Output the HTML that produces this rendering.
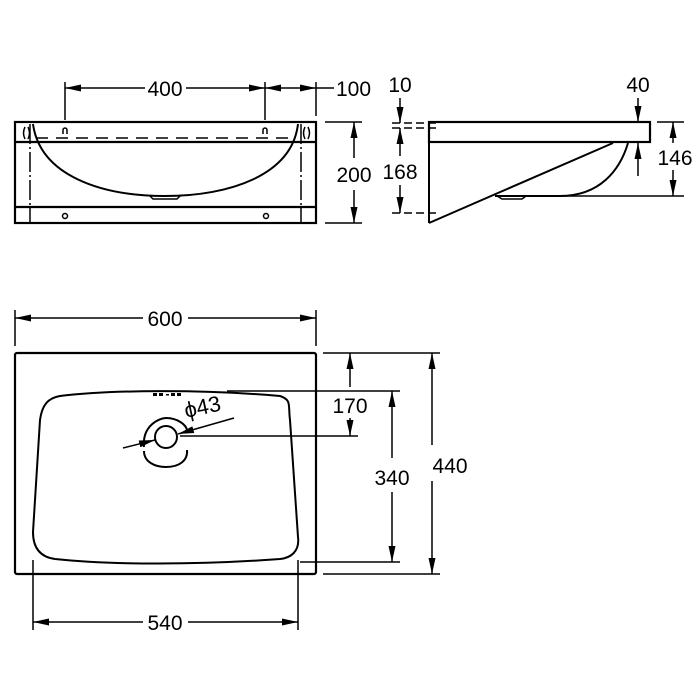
<!DOCTYPE html>
<html><head><meta charset="utf-8"><style>
html,body{margin:0;padding:0;background:#fff;}
svg{display:block;}
text{font-family:"Liberation Sans",sans-serif;font-size:21px;fill:#000;}
</style></head><body>
<svg width="700" height="700" viewBox="0 0 700 700" xmlns="http://www.w3.org/2000/svg">
<defs>
<marker id="a" viewBox="0 0 16 7" refX="16" refY="3.5" markerWidth="16" markerHeight="7" markerUnits="userSpaceOnUse" orient="auto-start-reverse">
<path d="M0,0 L16,3.5 L0,7 z" fill="#000"/>
</marker>
</defs>
<g stroke="#000" fill="none" stroke-width="1.5">
<!-- TOP FRONT VIEW -->
<rect x="15" y="122" width="301" height="101" stroke-width="2.2"/>
<line x1="15" y1="142" x2="316" y2="142" stroke-width="2.2"/>
<line x1="15" y1="207" x2="316" y2="207" stroke-width="2.2"/>
<line x1="36" y1="138" x2="296" y2="138" stroke-dasharray="12,8"/>
<line x1="30" y1="124" x2="30" y2="223" stroke-dasharray="20,3,2,3"/>
<line x1="301" y1="124" x2="301" y2="223" stroke-dasharray="20,3,2,3"/>
<path d="M33,124 C40,175 100,196 165,196 C230,196 292,175 298,124" stroke-width="2"/>
<path d="M150,196 L153,199 L177,199 L180,196"/>
<path d="M25,127 q-3,6 0,12 M28,127 q3,6 0,12 M305,127 q-3,6 0,12 M308,127 q3,6 0,12"/>
<path d="M63,134 v-4 a2,2 0 1 1 4,0 v4 M263,134 v-4 a2,2 0 1 1 4,0 v4"/>
<circle cx="65" cy="216" r="2.5"/><circle cx="266" cy="216" r="2.5"/>
<line x1="65" y1="82" x2="65" y2="120"/>
<line x1="265" y1="82" x2="265" y2="120"/>
<line x1="316" y1="82" x2="316" y2="116"/>
<line x1="65" y1="88" x2="145" y2="88" marker-start="url(#a)"/>
<line x1="186" y1="88" x2="265" y2="88" marker-end="url(#a)"/>
<line x1="265" y1="88" x2="316" y2="88" marker-start="url(#a)" marker-end="url(#a)"/>
<line x1="316" y1="88" x2="334" y2="88"/>
<line x1="325" y1="122" x2="362" y2="122"/>
<line x1="325" y1="223" x2="362" y2="223"/>
<line x1="354" y1="122" x2="354" y2="158" marker-start="url(#a)"/>
<line x1="354" y1="190" x2="354" y2="223" marker-end="url(#a)"/>
<!-- SIDE VIEW -->
<rect x="429" y="122" width="221" height="20" stroke-width="2.2"/>
<line x1="429" y1="142" x2="429" y2="223" stroke-width="2"/>
<line x1="429" y1="223" x2="613" y2="143" stroke-width="2"/>
<path d="M628,143 C620,170 600,196 560,196 L495,196" stroke-width="2"/>
<path d="M497,196 L502,199 L522,199 L526,196"/>
<line x1="560" y1="196" x2="684" y2="196"/>
<line x1="657" y1="122" x2="684" y2="122"/>
<line x1="392" y1="123" x2="440" y2="123" stroke-dasharray="8,4"/>
<line x1="392" y1="128" x2="440" y2="128" stroke-dasharray="8,4"/>
<line x1="392" y1="213" x2="440" y2="213" stroke-dasharray="8,4"/>
<line x1="400" y1="98" x2="400" y2="123" marker-end="url(#a)"/>
<line x1="400" y1="128" x2="400" y2="156" marker-start="url(#a)"/>
<line x1="400" y1="185" x2="400" y2="213" marker-end="url(#a)"/>
<line x1="638" y1="98" x2="638" y2="122" marker-end="url(#a)"/>
<line x1="638" y1="143" x2="638" y2="176" marker-start="url(#a)"/>
<line x1="673" y1="122" x2="673" y2="143" marker-start="url(#a)"/>
<line x1="673" y1="170" x2="673" y2="196" marker-end="url(#a)"/>
<!-- PLAN VIEW -->
<rect x="15" y="353" width="301" height="221" rx="2" stroke-width="2.2"/>
<path d="M60,396 C110,390 200,389 280,396 C292,400 288,405 290,420 L298,537 C300,552 290,558 280,559 C200,565 110,565 55,559 C40,557 33,548 33,532 L40,420 C42,405 48,398 60,396 Z" stroke-width="2"/>
<circle cx="166" cy="437" r="11" stroke-width="2"/>
<path d="M144,447 C142,425 160,418 166,418 C178,418 186,425 187,430" stroke-width="2"/>
<path d="M144,451 C144,462 155,467 166,467 C180,467 188,460 187,450" stroke-width="2"/>
<g fill="#000" stroke="none"><rect x="153" y="393" width="4" height="3"/><rect x="159" y="393" width="4" height="3"/><rect x="166" y="394" width="3" height="1.5"/><rect x="171" y="393" width="4" height="3"/><rect x="177" y="393" width="4" height="3"/></g>
<line x1="234" y1="418" x2="178" y2="434" marker-end="url(#a)"/>
<line x1="123" y1="448" x2="155" y2="440" marker-end="url(#a)"/>
<line x1="227" y1="391" x2="400" y2="391"/>
<line x1="180" y1="436" x2="358" y2="436"/>
<line x1="323" y1="353" x2="440" y2="353"/>
<line x1="323" y1="574" x2="440" y2="574"/>
<line x1="300" y1="562" x2="400" y2="562"/>
<line x1="350" y1="353" x2="350" y2="387" marker-start="url(#a)"/>
<line x1="350" y1="418" x2="350" y2="436" marker-end="url(#a)"/>
<line x1="392" y1="391" x2="392" y2="458" marker-start="url(#a)"/>
<line x1="392" y1="492" x2="392" y2="562" marker-end="url(#a)"/>
<line x1="432" y1="353" x2="432" y2="445" marker-start="url(#a)"/>
<line x1="432" y1="481" x2="432" y2="574" marker-end="url(#a)"/>
<line x1="15" y1="310" x2="15" y2="346"/>
<line x1="316" y1="310" x2="316" y2="346"/>
<line x1="15" y1="318" x2="143" y2="318" marker-start="url(#a)"/>
<line x1="188" y1="318" x2="316" y2="318" marker-end="url(#a)"/>
<line x1="33" y1="560" x2="33" y2="630"/>
<line x1="298" y1="560" x2="298" y2="630"/>
<line x1="33" y1="622" x2="143" y2="622" marker-start="url(#a)"/>
<line x1="188" y1="622" x2="298" y2="622" marker-end="url(#a)"/>
</g>
<text x="165" y="96" text-anchor="middle">400</text>
<text x="336" y="96">100</text>
<text x="354" y="182" text-anchor="middle">200</text>
<text x="400" y="92" text-anchor="middle">10</text>
<text x="400" y="179" text-anchor="middle">168</text>
<text x="638" y="92" text-anchor="middle">40</text>
<text x="675" y="165" text-anchor="middle">146</text>
<text x="165" y="326" text-anchor="middle">600</text>
<text x="165" y="630" text-anchor="middle">540</text>
<text x="350" y="413" text-anchor="middle">170</text>
<text x="392" y="485" text-anchor="middle">340</text>
<text x="450" y="473" text-anchor="middle">440</text>
<text x="186" y="418" transform="rotate(-12 186 418)" style="font-size:22px">ϕ43</text>
</svg>
</body></html>
